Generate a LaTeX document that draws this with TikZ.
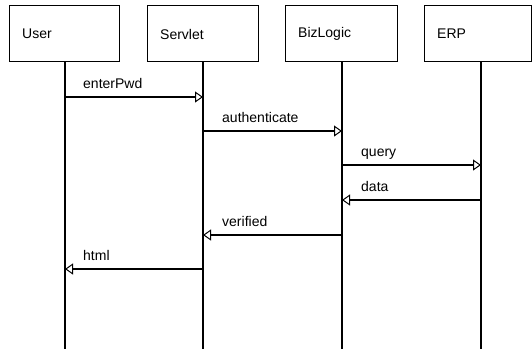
\documentclass[tikz,border=0pt]{standalone}
\usepackage{fontspec}
\setmainfont{Liberation Sans}
\usetikzlibrary{arrows.meta}
\begin{document}
\begin{tikzpicture}[x=1pt,y=-1pt,
  obj/.style={draw=black,line width=1pt,minimum width=110pt,minimum height=56pt,anchor=north west,inner sep=0pt},
  objtext/.style={anchor=west,font=\fontsize{14}{16}\selectfont,inner sep=0pt},
  lifeline/.style={line width=2pt},
  msg/.style={line width=2pt,-{Triangle[open,length=8pt,width=11pt,line width=1pt,fill=white]}},
  msglabel/.style={anchor=base west,font=\fontsize{14}{16}\selectfont,inner sep=0pt}]
\useasboundingbox (0,0) rectangle (532,349);
\fill[white] (0,0) rectangle (532,349);
% objects
\node[obj] (user) at (9,5) {};
\node[obj,minimum width=111pt] (servlet) at (147,5) {};
\node[obj,minimum width=112pt] (biz) at (285,5) {};
\node[obj,minimum width=107pt] (erp) at (424,5) {};
\node[objtext] (tuser) at (22,34) {User};
\node[objtext] (tservlet) at (160,34) {Servlet};
\node[objtext] (tbiz) at (298,34) {BizLogic};
\node[objtext] (terp) at (437,34) {ERP};
% lifeline ends
\coordinate (uend) at (65,349);
\coordinate (send) at (203,349);
\coordinate (bend) at (342,349);
\coordinate (eend) at (481,349);
\coordinate (utop) at (65,61);
\coordinate (stop) at (203,61);
\coordinate (btop) at (342,61);
\coordinate (etop) at (481,61);
\draw[lifeline] (utop) -- (uend);
\draw[lifeline] (stop) -- (send);
\draw[lifeline] (btop) -- (bend);
\draw[lifeline] (etop) -- (eend);
% message points
\coordinate (u1) at (65,97);  \coordinate (s1) at (203,97);
\coordinate (s2) at (203,131); \coordinate (b2) at (342,131);
\coordinate (b3) at (342,165); \coordinate (e3) at (481,165);
\coordinate (e4) at (481,200); \coordinate (b4) at (342,200);
\coordinate (b5) at (342,235); \coordinate (s5) at (203,235);
\coordinate (s6) at (203,269); \coordinate (u6) at (65,269);
\draw[msg] (u1) -- (s1);
\draw[msg] (s2) -- (b2);
\draw[msg] (b3) -- (e3);
\draw[msg] (e4) -- (b4);
\draw[msg] (b5) -- (s5);
\draw[msg] (s6) -- (u6);
\node[msglabel] (l1) at (83,88) {enterPwd};
\node[msglabel] (l2) at (222,122) {authenticate};
\node[msglabel] (l3) at (361,156) {query};
\node[msglabel] (l4) at (361,191) {data};
\node[msglabel] (l5) at (222,226) {verified};
\node[msglabel] (l6) at (83,260) {html};
\end{tikzpicture}
\end{document}
